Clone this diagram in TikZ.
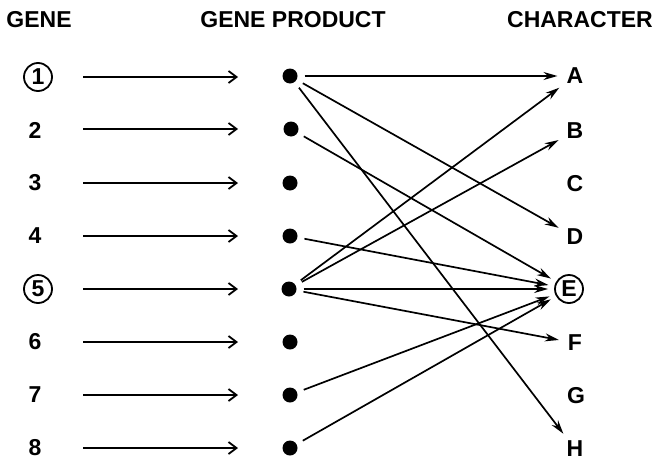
\documentclass[tikz,border=0pt]{standalone}
\usepackage{fontspec}
\setmainfont{Liberation Sans}
\usetikzlibrary{arrows.meta}
\begin{document}
\begin{tikzpicture}[x=1pt,y=-1pt,
  lbl/.style={font=\bfseries\fontsize{23}{23}\selectfont, inner sep=0pt},
  dotnode/.style={circle, fill=black, minimum size=15pt, inner sep=0pt},
  ring/.style={draw, circle, line width=1.8pt, minimum size=28pt, inner sep=0pt},
  genearrow/.style={line width=1.8pt, -{Straight Barb[length=8pt,width=12pt,line width=1.8pt]}},
  link/.style={line width=1.7pt, -{Stealth[length=14pt,width=8pt]}, shorten <=7pt, shorten >=9pt},
  elink/.style={link, shorten >=6pt}
]
\useasboundingbox (0,0) rectangle (655,471);
% headers
\node[lbl] (h1) at (39,20) {GENE};
\node[lbl] (h2) at (293,20) {GENE PRODUCT};
\node[lbl] (h3) at (580,20) {CHARACTER};
% gene labels
\node[lbl, ring] (g1) at (38,77) {1};
\node[lbl] (g2) at (35,130) {2};
\node[lbl] (g3) at (35,183) {3};
\node[lbl] (g4) at (35,236) {4};
\node[lbl, ring] (g5) at (38,289) {5};
\node[lbl] (g6) at (35,342) {6};
\node[lbl] (g7) at (35,395) {7};
\node[lbl] (g8) at (35,448) {8};
% gene arrow coordinates
\foreach \i/\y in {1/77,2/129,3/183,4/236,5/289,6/342,7/395,8/448}{
  \coordinate (s\i) at (83,\y);
  \coordinate (t\i) at (238,\y);
}
% dots
\node[dotnode] (p1) at (290,76) {};
\node[dotnode] (p2) at (291,129) {};
\node[dotnode] (p3) at (290,183) {};
\node[dotnode] (p4) at (290,236) {};
\node[dotnode] (p5) at (289,289) {};
\node[dotnode] (p6) at (290,342) {};
\node[dotnode] (p7) at (290,395) {};
\node[dotnode] (p8) at (290,448) {};
% characters
\node[lbl] (cA) at (575,76) {A};
\node[lbl] (cB) at (575,131) {B};
\node[lbl] (cC) at (575,184) {C};
\node[lbl] (cD) at (575,237) {D};
\node[lbl, ring] (cE) at (569,289) {E};
\node[lbl] (cF) at (575,343) {F};
\node[lbl] (cG) at (576,396) {G};
\node[lbl] (cH) at (575,449) {H};
% gene -> product arrows
\foreach \i in {1,...,8}{
  \draw[genearrow] (s\i) -- (t\i);
}
% product -> character
\draw[link] (p1) -- (cA);
\draw[link] (p1) -- (cD);
\draw[link] (p1) -- (cH);
\draw[elink] (p2) -- (cE);
\draw[elink] (p4) -- (cE);
\draw[link] (p5) -- (cA);
\draw[link] (p5) -- (cB);
\draw[elink] (p5) -- (cE);
\draw[link] (p5) -- (cF);
\draw[elink] (p7) -- (cE);
\draw[elink] (p8) -- (cE);
\end{tikzpicture}
\end{document}
